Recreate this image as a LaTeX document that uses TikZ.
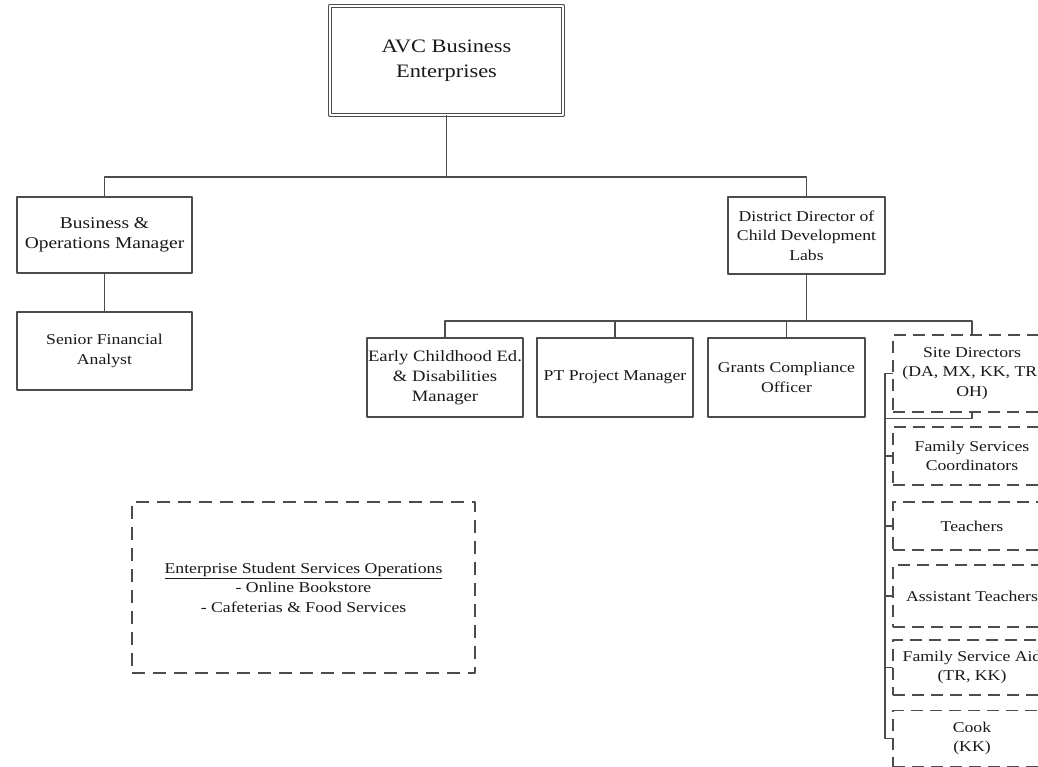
\documentclass[tikz,border=0pt]{standalone}
\usepackage{fontspec}
\setmainfont[FakeStretch=1.18]{Liberation Serif}
\begin{document}
\begin{tikzpicture}[x=1pt, y=-1pt, line join=round, line cap=round,
    font=\fontsize{15}{19.5}\selectfont,
    box/.style={draw=black!70, line width=1.4pt, fill=white, text=black!90, align=center, inner sep=0pt},
    dashbox/.style={box, line cap=butt, dash pattern=on 12pt off 7pt},
    link/.style={draw=black!70, line width=1.4pt}]
    \useasboundingbox (0,0) rectangle (1038,767);
    \clip (0,0) rectangle (1038,767);
    % head of the chart
    \node[box, double, double distance=2pt, line width=1.2pt, minimum width=233pt, minimum height=109pt,
        font=\fontsize{19}{25}\selectfont] (avc) at (446.5,60.5) {AVC Business\\Enterprises};
    % left branch
    \node[box, minimum width=175pt, minimum height=76pt, font=\fontsize{16.5}{19.5}\selectfont] (bo) at (104.5,235) {Business \&\\Operations Manager};
    \node[box, minimum width=175pt, minimum height=78pt] (sfa) at (104.5,351) {Senior Financial\\Analyst};
    % right branch
    \node[box, minimum width=157pt, minimum height=77pt] (dd) at (806.5,235.5) {District Director of\\Child Development\\Labs};
    \node[box, minimum width=156pt, minimum height=79pt, font=\fontsize{15.8}{20}\selectfont] (ec) at (445,377.5) {Early Childhood Ed.\\\& Disabilities\\Manager};
    \node[box, minimum width=156pt, minimum height=79pt] (pt) at (615,377.5) {PT Project Manager};
    \node[box, minimum width=157pt, minimum height=79pt] (gc) at (786.5,377.5) {Grants Compliance\\Officer};
    % site staff, dashed column
    \node[dashbox, minimum width=158pt, minimum height=77pt] (site) at (972,373.5) {Site Directors\\(DA, MX, KK, TR,\\OH)};
    \node[dashbox, minimum width=158pt, minimum height=58pt] (fsc) at (972,456) {Family Services\\Coordinators};
    \node[dashbox, minimum width=158pt, minimum height=48pt] (teach) at (972,526) {Teachers};
    \node[dashbox, minimum width=158pt, minimum height=62pt] (asst) at (972,596) {Assistant Teachers};
    \node[dashbox, minimum width=158pt, minimum height=55pt] (aide) at (972,667.5) {Family Service Aid\\(TR, KK)};
    \node[dashbox, minimum width=158pt, minimum height=56pt] (cook) at (972,738.5) {Cook\\(KK)};
    % operations box
    \node[dashbox, dash pattern=on 13pt off 8pt, minimum width=343pt, minimum height=171pt] (ent) at (303.5,587.5)
        {\underline{Enterprise Student Services Operations}\\- Online Bookstore\\- Cafeterias \& Food Services};

    % connectors
    \coordinate (bar1) at (446.5,177);
    \coordinate (bar2) at (806.5,321);
    \coordinate (bus) at (885,0);
    \draw[link] (avc.south) -- (bar1);
    \draw[link] (bo.north) |- (bar1) -| (dd.north);
    \draw[link] (bo) -- (sfa);
    \draw[link] (dd.south) -- (bar2);
    \draw[link] (ec.north) |- (bar2) -| (site.north);
    \draw[link] (pt.north) -- (pt.north |- bar2);
    \draw[link] (gc.north) -- (gc.north |- bar2);
    \draw[link] (site.west) -| (bus |- cook.west) -- (cook.west);
    \draw[link] (site.south) |- ([yshift=-6pt]site.south -| bus);
    \foreach \n in {fsc,teach,asst,aide}
        \draw[link] (bus |- \n.west) -- (\n.west);
\end{tikzpicture}
\end{document}
